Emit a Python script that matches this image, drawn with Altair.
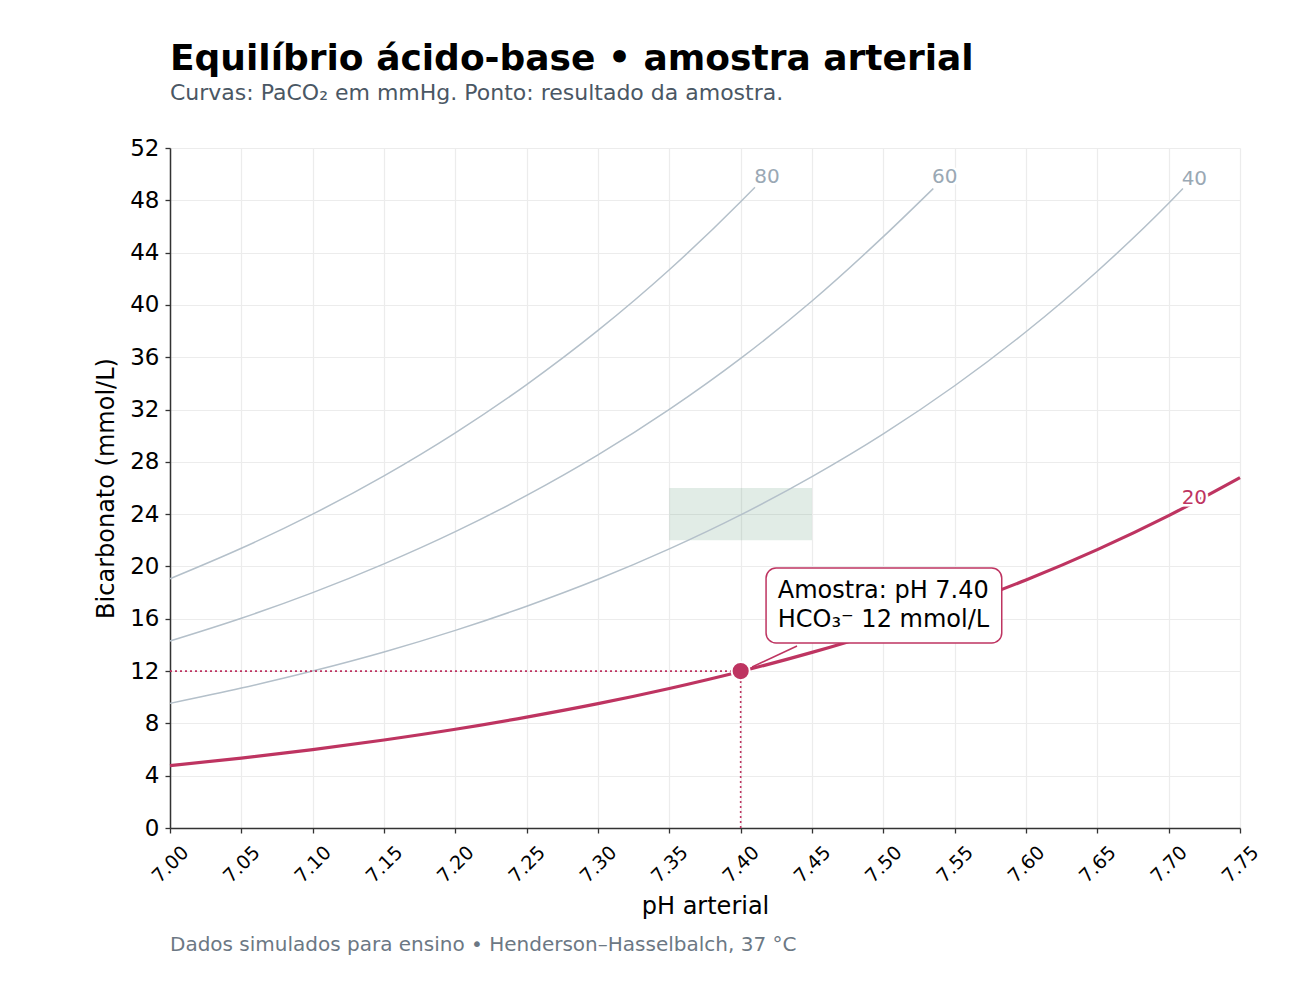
import altair as alt
import pandas as pd

# curves: HCO3- (mmol/L) for each PaCO2
ph_20 = [7.00, 7.05, 7.10, 7.15, 7.20, 7.25, 7.30, 7.35, 7.40, 7.45, 7.50, 7.55, 7.60, 7.65, 7.70, 7.75]
hco3_20 = [4.77, 5.35, 6.00, 6.73, 7.55, 8.48, 9.51, 10.67, 11.97, 13.43, 15.07, 16.91, 18.97, 21.29, 23.89, 26.80]
ph_40 = [7.00, 7.05, 7.10, 7.15, 7.20, 7.25, 7.30, 7.35, 7.40, 7.45, 7.50, 7.55, 7.60, 7.65, 7.70, 7.71]
hco3_40 = [9.53, 10.70, 12.00, 13.46, 15.11, 16.96, 19.02, 21.34, 23.94, 26.87, 30.14, 33.82, 37.95, 42.58, 47.77, 48.9]
ph_60 = [7.00, 7.05, 7.10, 7.15, 7.20, 7.25, 7.30, 7.35, 7.40, 7.45, 7.50, 7.535]
hco3_60 = [14.30, 16.04, 18.00, 20.20, 22.66, 25.43, 28.53, 32.01, 35.91, 40.30, 45.22, 48.9]
ph_80 = [7.00, 7.05, 7.10, 7.15, 7.20, 7.25, 7.30, 7.35, 7.40, 7.41]
hco3_80 = [19.06, 21.39, 24.00, 26.93, 30.22, 33.91, 38.05, 42.69, 47.89, 49.0]

# curve labels
label_text = ["80", "60", "40", "20"]
label_ph = [7.4185, 7.543, 7.718, 7.718]
label_hco3 = [49.8, 49.8, 49.6, 25.2]

# sample
sample_ph = 7.40
sample_hco3 = 12
note_lines = ["Amostra: pH 7.40", "HCO₃⁻ 12 mmol/L"]

# normal range box
normal_ph = [7.35, 7.45]
normal_hco3 = [22, 26]

ph_ticks = [7.00, 7.05, 7.10, 7.15, 7.20, 7.25, 7.30, 7.35, 7.40, 7.45, 7.50, 7.55, 7.60, 7.65, 7.70, 7.75]
hco3_ticks = list(range(0, 53, 4))

CRIMSON = "#be3461"
GRAY = "#b4c0ca"
FONT = "DejaVu Sans"
W, H = 1070, 680

gray_df = pd.concat([
    pd.DataFrame({"ph": ph_80, "hco3": hco3_80, "paco2": "80"}),
    pd.DataFrame({"ph": ph_60, "hco3": hco3_60, "paco2": "60"}),
    pd.DataFrame({"ph": ph_40, "hco3": hco3_40, "paco2": "40"}),
])
red_df = pd.DataFrame({"ph": ph_20, "hco3": hco3_20})
labels_df = pd.DataFrame({"ph": label_ph, "hco3": label_hco3, "t": label_text,
                          "red": [False, False, False, True]})

xscale = alt.Scale(domain=[7.0, 7.75], nice=False, zero=False)
yscale = alt.Scale(domain=[0, 52], nice=False)

base_x = alt.X("ph:Q", scale=xscale, title="pH arterial",
               axis=alt.Axis(values=ph_ticks, format=".2f", labelAngle=315,
                             labelAlign="center", labelBaseline="middle",
                             labelPadding=31, labelFontSize=19, labelOverlap=False,
                             titlePadding=8))
base_y = alt.Y("hco3:Q", scale=yscale, title="Bicarbonato (mmol/L)",
               axis=alt.Axis(values=hco3_ticks, labelFontSize=23, labelPadding=6, titlePadding=11))

normal = alt.Chart(pd.DataFrame({"x": [normal_ph[0]], "x2": [normal_ph[1]],
                                 "y": [normal_hco3[0]], "y2": [normal_hco3[1]]})).mark_rect(
    color="#6a9e80", opacity=0.2
).encode(x=alt.X("x:Q", scale=xscale), x2="x2:Q", y=alt.Y("y:Q", scale=yscale), y2="y2:Q")

gray_lines = alt.Chart(gray_df).mark_line(color=GRAY, strokeWidth=1.5, interpolate="monotone").encode(
    x=base_x, y=base_y, detail="paco2:N"
)
red_line = alt.Chart(red_df).mark_line(color=CRIMSON, strokeWidth=3.2, interpolate="monotone").encode(
    x="ph:Q", y="hco3:Q"
)

guide_df = pd.DataFrame({"x": [7.0, sample_ph], "x2": [sample_ph, sample_ph],
                         "y": [sample_hco3, 0], "y2": [sample_hco3, sample_hco3]})
guides = alt.Chart(guide_df).mark_rule(color=CRIMSON, strokeWidth=1.6, strokeDash=[2, 3]).encode(
    x="x:Q", x2="x2:Q", y="y:Q", y2="y2:Q"
)

arrow = alt.Chart(pd.DataFrame({"x": [7.408], "x2": [7.4395], "y": [12.31], "y2": [13.92]})).mark_rule(
    color=CRIMSON, strokeWidth=1.5
).encode(x="x:Q", x2="x2:Q", y="y:Q", y2="y2:Q")

box = alt.Chart(pd.DataFrame({"x": [7.4178], "x2": [7.583], "y": [14.15], "y2": [19.88]})).mark_rect(
    fill="white", stroke=CRIMSON, strokeWidth=1.5, cornerRadius=10
).encode(x="x:Q", x2="x2:Q", y="y:Q", y2="y2:Q")

note = alt.Chart(pd.DataFrame({"x": [7.426, 7.426], "y": [18.1, 15.9], "t": note_lines})).mark_text(
    align="left", baseline="middle", fontSize=24, font=FONT, color="black"
).encode(x="x:Q", y="y:Q", text="t:N")

point = alt.Chart(pd.DataFrame({"ph": [sample_ph], "hco3": [sample_hco3]})).mark_point(
    filled=True, size=330, color=CRIMSON, stroke="white", strokeWidth=2, opacity=1
).encode(x="ph:Q", y="hco3:Q")

halo = alt.Chart(labels_df).mark_text(
    fontSize=20, font=FONT, stroke="white", strokeWidth=5, color="white", baseline="middle"
).encode(x="ph:Q", y="hco3:Q", text="t:N")
labels = alt.Chart(labels_df).mark_text(fontSize=20, font=FONT, baseline="middle").encode(
    x="ph:Q", y="hco3:Q", text="t:N",
    color=alt.Color("red:N", scale=alt.Scale(domain=[False, True], range=["#9aa8b4", CRIMSON]), legend=None)
)

footer = alt.Chart(pd.DataFrame({"t": ["Dados simulados para ensino • Henderson–Hasselbalch, 37 °C"]})).mark_text(
    align="left", baseline="middle", fontSize=20, font=FONT, color="#6c7884"
).encode(x=alt.value(0), y=alt.value(797), text="t:N")

chart = alt.layer(
    normal, gray_lines, red_line, guides, arrow, box, note, point, halo, labels, footer
).properties(
    width=W, height=H,
    padding={"left": 86, "top": 33, "right": 20, "bottom": 10},
    title=alt.TitleParams(
        "Equilíbrio ácido-base • amostra arterial",
        subtitle="Curvas: PaCO₂ em mmHg. Ponto: resultado da amostra.",
        anchor="start", frame="group", font=FONT, fontSize=36, fontWeight="bold", color="black",
        subtitleFont=FONT, subtitleFontSize=22, subtitleColor="#4a5764",
        subtitlePadding=5, offset=32
    )
).configure_view(stroke=None).configure_axis(
    labelFont=FONT, titleFont=FONT, titleFontSize=24, titleFontWeight="normal",
    labelColor="black", titleColor="black",
    domainColor="#333333", domainWidth=1.5, tickColor="#333333", tickSize=5, tickWidth=1.3,
    gridColor="#ececec", gridWidth=1.2
)

chart.save("out.html", embed_options={"renderer": "svg", "actions": False})
